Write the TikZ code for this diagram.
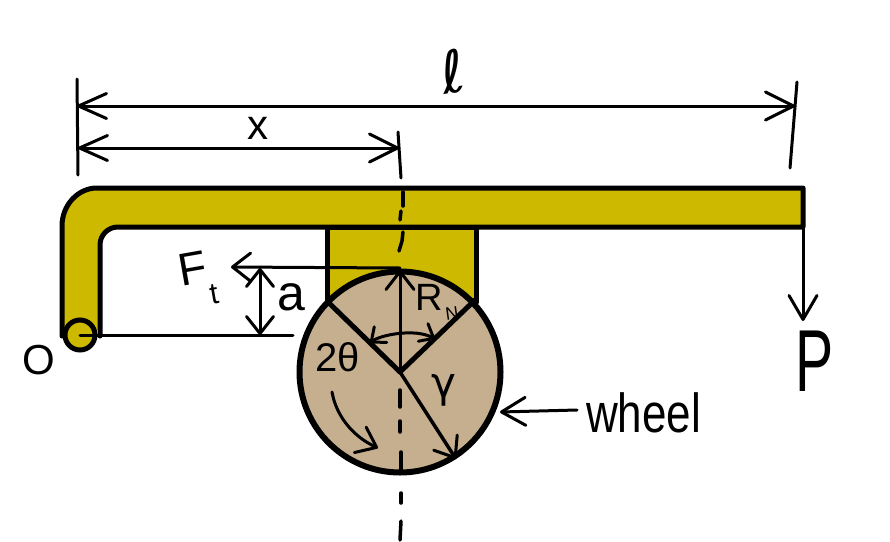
\documentclass[tikz,border=0pt]{standalone}
\usepackage{fontspec}
\setmainfont{Liberation Sans}
\newfontfamily\djv{DejaVu Sans}
\usetikzlibrary{arrows.meta}
\definecolor{leveryel}{HTML}{CDB900}
\definecolor{wheeltan}{HTML}{C5AF8F}
\tikzset{
  x=1pt,y=-1pt,
  thick line/.style={line width=5pt,line cap=round,line join=round},
  thin line/.style={line width=3pt,line cap=round,line join=round},
  dash line/.style={line width=3.5pt,line cap=round,line join=round},
  barb/.style={-{Straight Barb[length=24pt,width=28pt,line width=3pt,round]}},
  dbarb/.style={{Straight Barb[length=28pt,width=25pt,line width=3pt,round]}-{Straight Barb[length=28pt,width=28pt,line width=3pt,round]}},
  vbarb/.style={{Straight Barb[length=17pt,width=27pt,line width=3pt,round]}-{Straight Barb[length=17pt,width=27pt,line width=3pt,round]}},
  sbarb/.style={-{Straight Barb[length=18pt,width=28pt,line width=3pt,round]}},
  dsbarb/.style={{Straight Barb[length=12pt,width=20pt,line width=3pt,round]}-{Straight Barb[length=12pt,width=20pt,line width=3pt,round]}},
  lab/.style={inner sep=0pt,anchor=center,text=black},
}
\begin{document}
\begin{tikzpicture}
\useasboundingbox (0,0) rectangle (890,541);
\fill[white] (0,0) rectangle (890,541);
% named points
\coordinate (c) at (400,372);
\coordinate (wl) at (328,302);
\coordinate (wr) at (475,300);
\coordinate (wt) at (400,270);
\coordinate (wd) at (456,459);
\coordinate (ftend) at (231,267);
\coordinate (ftr) at (400,268);
\coordinate (piv) at (80,335);
\coordinate (pivr) at (293,335);
\coordinate (aup) at (260,268);
\coordinate (adn) at (260,335);
\coordinate (lL) at (77,106);
\coordinate (lR) at (795,106);
\coordinate (xL) at (78,148);
\coordinate (xR) at (399,148);
\coordinate (pT) at (803,227);
\coordinate (pB) at (803,321);
\coordinate (wa) at (577,410);
\coordinate (wb) at (500,412);
% block
\draw[thick line,fill=leveryel] (327,227) -- (327,302) -- (476,302) -- (476,227) -- cycle;
% lever
\draw[thick line,fill=leveryel] (62,336) -- (62,226)
  .. controls (62,205) and (78,188) .. (97,188)
  -- (803,188) -- (803,227) -- (118,227)
  .. controls (108,227) and (100,235) .. (100,245)
  -- (100,336);
\fill[leveryel] (64.5,330) rectangle (97.5,336);
% pivot
\node[circle,draw=black,line width=5pt,fill=leveryel,minimum size=30pt,inner sep=0pt] (pivot) at (piv) {};
% wheel
\node[circle,draw=black,line width=6pt,fill=wheeltan,minimum size=201pt,inner sep=0pt] (wheel) at (c) {};
% centre line
\draw[thin line] (398,132) -- (401,178);
\draw[dash line] (403,192) -- (403,206);
\draw[dash line] (401,211) -- (400,220);
\draw[dash line] (403,232) -- (402,241) -- (399,251);
\draw[dash line] (400,390) -- (400,407);
\draw[dash line] (400,421) -- (400,432);
\draw[dash line] (401,452) -- (401,470);
\draw[dash line] (401,493) -- (401,503);
\draw[dash line] (401,521) -- (400,540);
% wheel lines
\draw[line width=5pt,line cap=round] (wl) -- (c);
\draw[line width=5pt,line cap=round] (wr) -- (c);
\draw[thin line,sbarb] (c) -- (wt);
\draw[line width=3.5pt,line cap=round,sbarb] (c) -- (wd);
\draw[thin line,dsbarb] (370,343) .. controls (380,335) and (415,328) .. (435,339);
\draw[thin line,sbarb] (332,392) .. controls (336,415) and (352,436) .. (378,448);
% force lines
\draw[thin line,sbarb] (ftr) -- (ftend);
\draw[thin line] (piv) -- (pivr);
\draw[thin line,vbarb] (aup) -- (adn);
% dimensions
\draw[thin line,dbarb] (lL) -- (lR);
\draw[thin line,dbarb] (xL) -- (xR);
\draw[thin line] (77,79) -- (78,175);
\draw[thin line] (797,82) -- (790,168);
\draw[thin line,barb] (pT) -- (pB);
\draw[thin line,barb] (wa) -- (wb);
% labels
\node[lab,font=\djv\fontsize{58}{58}\selectfont,rotate=10] (lbll) at (453,72) {ℓ};
\node[lab,font=\fontsize{42}{42}\selectfont] (lblx) at (258,128) {x};
\node[lab,font=\fontsize{46}{46}\selectfont,rotate=10] (lblF) at (193,268) {F};
\node[lab,font=\fontsize{30}{30}\selectfont,rotate=10] (lblt) at (214,294) {t};
\node[lab,font=\fontsize{50}{50}\selectfont] (lbla) at (291,297) {a};
\node[lab,font=\fontsize{38}{38}\selectfont] (lblR) at (429,297) {R};
\node[lab,font=\fontsize{18}{18}\selectfont,rotate=8] (lblN) at (452,313) {N};
\node[lab,font=\fontsize{40}{40}\selectfont] (lblth) at (338,357) {2θ};
\node[lab,font=\djv\fontsize{42}{42}\selectfont] (lblr) at (444,390) {γ};
\node[lab,font=\fontsize{42}{42}\selectfont] (lblO) at (39,360) {O};
\node[lab,font=\fontsize{88}{88}\selectfont] (lblP) at (815,361) {\scalebox{0.65}[1]{P}};
\node[lab,font=\fontsize{44}{44}\selectfont,anchor=base west] (lblw) at (586,432) {\scalebox{1}[1.25]{wheel}};
\end{tikzpicture}
\end{document}
